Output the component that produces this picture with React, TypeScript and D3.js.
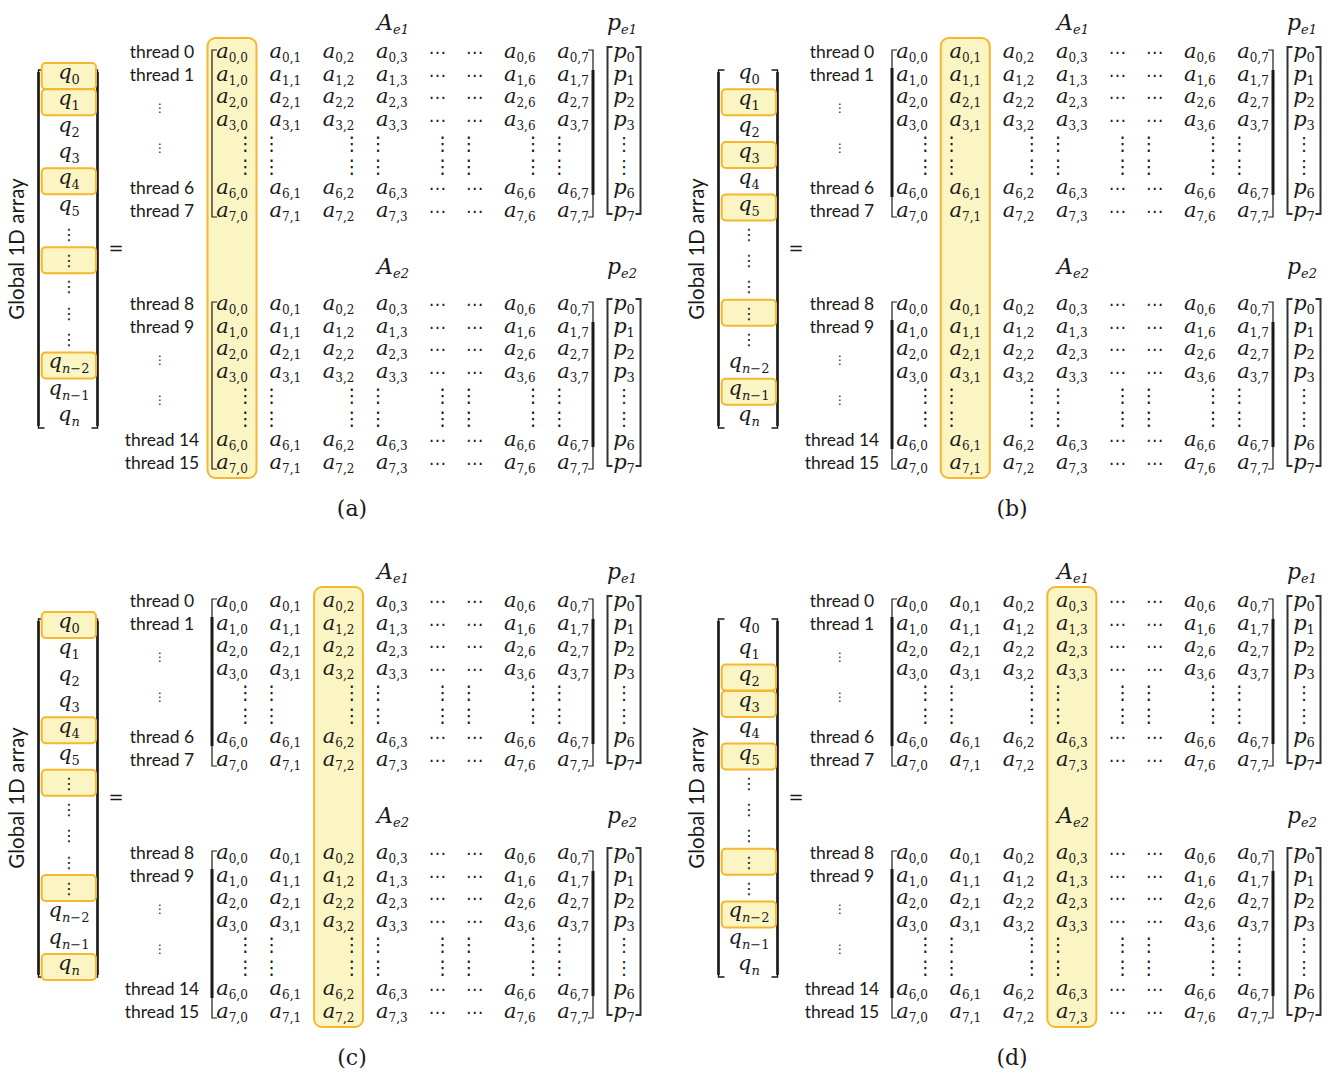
import React from "react";
import * as d3 from "d3";

// ---------- data ----------
const panelLabels = ["(a)", "(b)", "(c)", "(d)"];
const panelHighlightColumn = [0, 1, 2, 3];
const panelHighlightVectorItems = [
  [0, 1, 4, 7, 11],
  [1, 3, 5, 9, 12],
  [0, 4, 6, 10, 13],
  [2, 3, 5, 9, 11],
];
const vectorSubscripts = ["0", "1", "2", "3", "4", "5", "⋮", "⋮", "⋮", "⋮", "⋮", "n−2", "n−1", "n"];
const matrixColumns = ["0", "1", "2", "3", "⋯", "⋯", "6", "7"];
const matrixRows = ["0", "1", "2", "3", "⋮", "⋮", "6", "7"];
const blockNames = ["e1", "e2"];
const blockThreads = [
  ["thread 0", "thread 1", "⋮", "⋮", "thread 6", "thread 7"],
  ["thread 8", "thread 9", "⋮", "⋮", "thread 14", "thread 15"],
];
const vectorLabel = "Global 1D array";

// ---------- styles ----------
const MATH = "'DejaVu Serif', 'Liberation Serif', serif";
const SANS = "Lato, 'Open Sans', sans-serif";
const SYM = "'DejaVu Sans', sans-serif";
const HL_FILL = "#FBF5C4";
const HL_STROKE = "#F6B72C";
const INK = "#1a1a1a";

// ---------- layout ----------
const threadRowPos = [0, 1, 2.4, 4.2, 6, 7];
const colUnits = [0, 1, 2, 3, 3.85, 4.55, 5.4, 6.4];
const blockRowTop = [52, 304];
const blockLabelBase = [30, 274];

function SubText({ s, italic }: { s: string; italic?: boolean }) {
  if (s.startsWith("n")) {
    return (
      <>
        <tspan fontStyle="italic">n</tspan>
        <tspan>{s.slice(1)}</tspan>
      </>
    );
  }
  return <tspan fontStyle={italic ? "italic" : "normal"}>{s}</tspan>;
}

function Panel({ idx }: { idx: number }) {
  const dx = (idx % 2) * 680;
  const dy = Math.floor(idx / 2) * 549;
  const hlCol = panelHighlightColumn[idx];
  const hlItems = panelHighlightVectorItems[idx];

  const xCol = d3.scaleLinear().domain([0, 6.4]).range([232, 573]);
  const yRowRel = d3.scaleLinear().domain([0, 7]).range([0, 159]);
  const yItem = d3.scaleLinear().domain([0, vectorSubscripts.length - 1]).range([76, 418]);
  const vecX = 69;
  const labelX = idx % 2 === 0 ? 352 : 332;

  const leftBr = (x: number, y0: number, y1: number, t: number) =>
    `M${x + t},${y0} H${x} V${y1} H${x + t}`;
  const rightBr = (x: number, y0: number, y1: number, t: number) =>
    `M${x - t},${y0} H${x} V${y1} H${x - t}`;

  return (
    <g transform={`translate(${dx},${dy})`}>
      {/* vertical label */}
      <text
        transform="translate(24,249) rotate(-90)"
        textAnchor="middle"
        fontFamily={SANS}
        fontSize={20.5}
        fill={INK}
      >
        {vectorLabel}
      </text>

      {/* vector brackets */}
      <path d={leftBr(38.5, 70, 428, 6)} fill="none" stroke={INK} strokeWidth={1.4} />
      <line x1={38.5} x2={38.5} y1={72} y2={426} stroke={INK} strokeWidth={2.6} />
      <path d={rightBr(97.5, 70, 428, 6)} fill="none" stroke={INK} strokeWidth={1.4} />
      <line x1={97.5} x2={97.5} y1={72} y2={426} stroke={INK} strokeWidth={2.6} />

      {/* vector highlight boxes */}
      {hlItems.map((k) => (
        <rect
          key={`vb${k}`}
          x={41.7}
          y={yItem(k) - 13}
          width={54.3}
          height={26}
          rx={4}
          fill={HL_FILL}
          stroke={HL_STROKE}
          strokeWidth={2}
        />
      ))}

      {/* vector entries */}
      {vectorSubscripts.map((s, k) =>
        s === "⋮" ? (
          <text key={`q${k}`} x={vecX} y={yItem(k) + 6} textAnchor="middle" fontFamily={SYM} fontSize={16} fill={INK}>
            ⋮
          </text>
        ) : (
          <text key={`q${k}`} x={vecX} y={yItem(k) + 3} textAnchor="middle" fontFamily={MATH} fill={INK}>
            <tspan fontStyle="italic" fontSize={21}>q</tspan>
            <tspan dy={5} fontSize={13}>
              <SubText s={s} />
            </tspan>
          </text>
        )
      )}

      {/* equals */}
      <text x={116} y={254} textAnchor="middle" fontFamily={SYM} fontSize={18} fill={INK}>
        =
      </text>

      {/* column highlight */}
      <rect
        x={xCol(colUnits[hlCol]) - 24.5}
        y={38}
        width={49}
        height={440}
        rx={8}
        fill={HL_FILL}
        stroke={HL_STROKE}
        strokeWidth={2}
      />

      {blockNames.map((bn, b) => {
        const top = blockRowTop[b];
        const yRow = (r: number) => top + yRowRel(r);
        const y0 = yRow(0) - 2;
        const y1 = yRow(7) + 6;
        return (
          <g key={bn}>
            {/* labels */}
            <text x={393} y={blockLabelBase[b]} textAnchor="middle" fontFamily={MATH} fill={INK}>
              <tspan fontStyle="italic" fontSize={22}>A</tspan>
              <tspan dy={4} fontSize={13} fontStyle="italic">{bn}</tspan>
            </text>
            <text x={622} y={blockLabelBase[b]} textAnchor="middle" fontFamily={MATH} fill={INK}>
              <tspan fontStyle="italic" fontSize={22}>p</tspan>
              <tspan dy={4} fontSize={13} fontStyle="italic">{bn}</tspan>
            </text>

            {/* thread labels */}
            {blockThreads[b].map((t, i) =>
              t === "⋮" ? (
                <text key={`t${i}`} x={160} y={yRow(threadRowPos[i]) + 5} textAnchor="middle" fontFamily={SYM} fontSize={12} fill={INK}>
                  ⋮
                </text>
              ) : (
                <text key={`t${i}`} x={162} y={yRow(threadRowPos[i]) + 6} textAnchor="middle" fontFamily={SANS} fontSize={17.5} fill={INK}>
                  {t}
                </text>
              )
            )}

            {/* matrix brackets */}
            <path d={leftBr(212, y0, y1, 5)} fill="none" stroke={INK} strokeWidth={1.2} />
            {hlCol !== 0 && (
              <line x1={212} x2={212} y1={yRow(0) + 16} y2={yRow(7) - 14} stroke={INK} strokeWidth={3} />
            )}
            <path d={rightBr(593, y0, y1, 5)} fill="none" stroke={INK} strokeWidth={1.2} />
            <line x1={593} x2={593} y1={yRow(0) + 18} y2={yRow(7) - 16} stroke={INK} strokeWidth={3} />

            {/* matrix entries */}
            {matrixRows.map((r, i) =>
              matrixColumns.map((c, j) => {
                const x = xCol(colUnits[j]);
                const y = yRow(i);
                const key = `m${i}-${j}`;
                if (r === "⋮") {
                  const off = c === "⋯" ? 5.5 : 13.5;
                  const xx = x + (j % 2 === 0 ? off : -off);
                  return (
                    <text key={key} x={xx} y={y + 7} textAnchor="middle" fontFamily={SYM} fontSize={19} fill={INK}>
                      ⋮
                    </text>
                  );
                }
                if (c === "⋯") {
                  return (
                    <text key={key} x={x} y={y + 6} textAnchor="middle" fontFamily={SYM} fontSize={17} fill={INK}>
                      ⋯
                    </text>
                  );
                }
                return (
                  <text key={key} x={x} y={y + 6} textAnchor="middle" fontFamily={MATH} fill={INK}>
                    <tspan fontStyle="italic" fontSize={21}>a</tspan>
                    <tspan dy={4} fontSize={12}>{`${r},${c}`}</tspan>
                  </text>
                );
              })
            )}

            {/* p vector */}
            <path d={leftBr(607.5, y0 - 3, y1 - 3, 5)} fill="none" stroke="#333" strokeWidth={2} />
            <path d={rightBr(640.5, y0 - 3, y1 - 3, 5)} fill="none" stroke="#333" strokeWidth={2} />
            {matrixRows.map((r, i) =>
              r === "⋮" ? (
                <text key={`p${i}`} x={624} y={yRow(i) + 7} textAnchor="middle" fontFamily={SYM} fontSize={18} fill={INK}>
                  ⋮
                </text>
              ) : (
                <text key={`p${i}`} x={624} y={yRow(i) + 6} textAnchor="middle" fontFamily={MATH} fill={INK}>
                  <tspan fontStyle="italic" fontSize={21}>p</tspan>
                  <tspan dy={4} fontSize={13}>{r}</tspan>
                </text>
              )
            )}
          </g>
        );
      })}

      {/* panel label */}
      <text x={labelX} y={516} textAnchor="middle" fontFamily={MATH} fontSize={22} fill={INK}>
        {panelLabels[idx]}
      </text>
    </g>
  );
}

export default function App() {
  return (
    <svg
      width={1330}
      height={1075}
      style={{ position: "absolute", left: 0, top: 0, background: "#fff" }}
    >
      <rect x={0} y={0} width={1330} height={1075} fill="#fff" />
      {panelLabels.map((_, i) => (
        <Panel key={i} idx={i} />
      ))}
    </svg>
  );
}
